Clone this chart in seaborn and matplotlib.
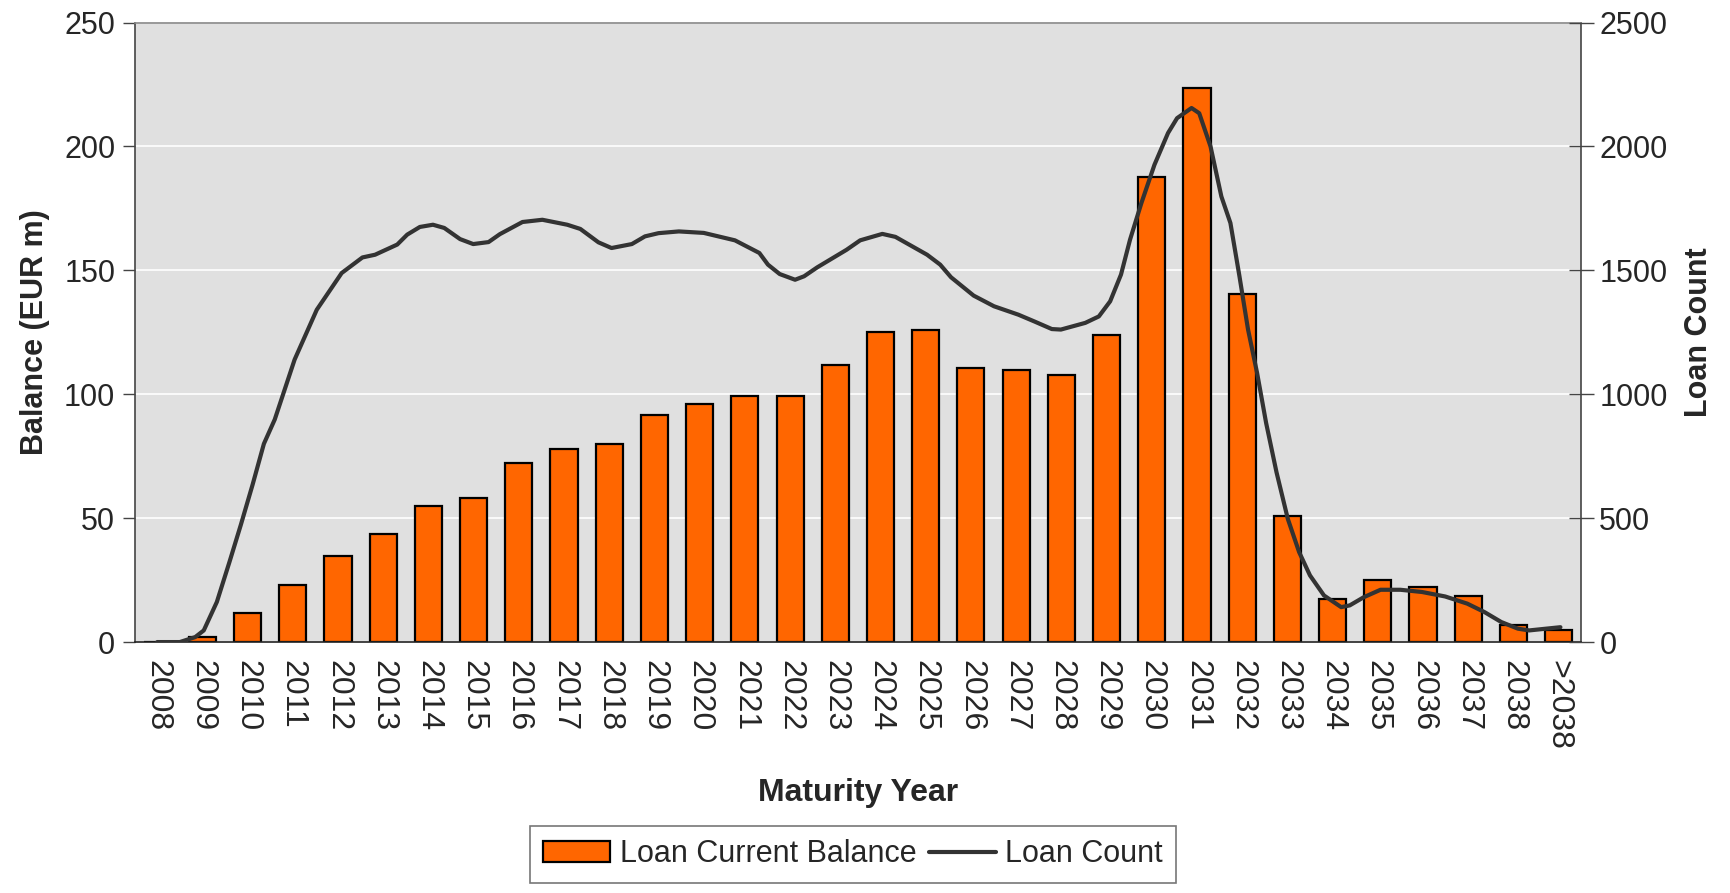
import matplotlib
matplotlib.use("Agg")
import matplotlib.pyplot as plt
import seaborn as sns
import pandas as pd
from matplotlib.ticker import FixedLocator, MultipleLocator
from matplotlib.patches import Patch
from matplotlib.lines import Line2D

# --- data ---
years = [str(y) for y in range(2008, 2039)] + [">2038"]
balance = [0, 1.9, 11.8, 23.2, 34.7, 43.5, 55.0, 58.0, 72.4, 78.1, 80.0,
           91.5, 96.2, 99.1, 99.1, 111.6, 125.1, 125.9, 110.5, 109.7, 107.7,
           123.9, 187.6, 223.4, 140.5, 50.8, 17.2, 24.9, 22.2, 18.4, 6.7, 4.8]

# loan count curve, x given in category positions (0 = 2008)
count_pos = [0.0, 0.5, 0.84, 1.03, 1.32, 1.60, 1.85, 2.11, 2.36, 2.60, 3.04,
             3.53, 4.08, 4.54, 4.82, 5.31, 5.53, 5.81, 6.10, 6.35, 6.70, 6.99,
             7.33, 7.58, 8.08, 8.52, 9.07, 9.36, 9.76, 10.05, 10.50, 10.79,
             11.09, 11.54, 12.09, 12.78, 13.32, 13.51, 13.77, 14.11, 14.31,
             14.60, 15.25, 15.55, 16.04, 16.33, 17.03, 17.32, 17.56, 18.06,
             18.51, 19.05, 19.40, 19.79, 19.99, 20.53, 20.83, 21.08, 21.32,
             21.52, 21.77, 22.06, 22.36, 22.56, 22.88, 23.05, 23.30, 23.54,
             23.74, 23.94, 24.13, 24.33, 24.53, 24.76, 25.01, 25.26, 25.50,
             25.81, 26.19, 26.38, 26.69, 27.06, 27.50, 27.98, 28.49, 28.98,
             29.36, 29.73, 30.10, 30.35, 30.72, 31.04]
count_vals = [0, 0, 20, 47, 162, 324, 473, 635, 800, 898, 1140,
              1341, 1489, 1552, 1563, 1604, 1644, 1675, 1684, 1671, 1626, 1606,
              1614, 1646, 1695, 1704, 1684, 1667, 1613, 1590, 1606, 1637,
              1650, 1657, 1651, 1621, 1570, 1523, 1485, 1462, 1476,
              1512, 1583, 1621, 1647, 1635, 1563, 1523, 1472, 1398,
              1355, 1321, 1294, 1263, 1261, 1288, 1314, 1375, 1483,
              1624, 1771, 1926, 2054, 2114, 2155, 2134, 2000, 1798,
              1691, 1476, 1261, 1086, 884, 685, 497, 363, 269,
              188, 141, 148, 181, 211, 211, 202, 184, 155,
              121, 81, 54, 47, 54, 60]

bar_color = "#FF6600"
line_color = "#333333"

sns.set_style("white")
plt.rcParams["font.family"] = ["Liberation Sans", "DejaVu Sans"]

fig = plt.figure(figsize=(17.3, 8.93), dpi=100)
ax = fig.add_axes([0.0778, 0.281, 0.8362, 0.6938])
ax.set_facecolor("#E0E0E0")

df = pd.DataFrame({"year": years, "balance": balance})
sns.barplot(data=df, x="year", y="balance", color=bar_color, width=0.6,
            edgecolor="black", linewidth=1.6, saturation=1, ax=ax, zorder=2)

ax.set_ylim(0, 250)
ax.set_xlim(-0.5, len(years) - 0.5)
ax.yaxis.set_major_locator(MultipleLocator(50))
ax.grid(axis="y", color="white", linewidth=1.2, zorder=0)
ax.set_axisbelow(True)

# category ticks at boundaries, labels at centres
ax.xaxis.set_major_locator(FixedLocator([i - 0.5 for i in range(len(years) + 1)]))
ax.xaxis.set_minor_locator(FixedLocator(list(range(len(years)))))
ax.set_xticklabels([], minor=False)
ax.set_xticklabels(years, minor=True, rotation=-90, fontsize=23)
ax.tick_params(axis="x", which="major", direction="out", length=9, width=1, color="#444444")
ax.tick_params(axis="x", which="minor", length=0, pad=13)
ax.tick_params(axis="y", direction="out", length=9, width=1, color="#444444",
               labelsize=22, pad=5)

ax.set_xlabel("Maturity Year", fontsize=23, fontweight="bold", labelpad=20)
ax.set_ylabel("Balance (EUR m)", fontsize=22, fontweight="bold", labelpad=10)

for s in ["left", "right"]:
    ax.spines[s].set_color("#444444")
ax.spines["top"].set_color("#888888")
ax.spines["bottom"].set_color("#222222")
for s in ax.spines.values():
    s.set_linewidth(1.2)

ax2 = ax.twinx()
sns.lineplot(x=count_pos, y=count_vals, sort=False, estimator=None,
             color=line_color, linewidth=3, ax=ax2, zorder=3)
ax2.set_ylim(0, 2500)
ax2.yaxis.set_major_locator(MultipleLocator(500))
ax2.tick_params(axis="y", direction="inout", length=18, width=1, color="#444444",
                labelsize=22, pad=4)
ax2.set_ylabel("Loan Count", fontsize=22, fontweight="bold", labelpad=12)
for s in ax2.spines.values():
    s.set_visible(False)

# legend below the plot
handles = [Patch(facecolor=bar_color, edgecolor="black", linewidth=1.6),
           Line2D([0], [0], color=line_color, linewidth=3)]
leg = fig.legend(handles, ["Loan Current Balance", "Loan Count"], ncol=2,
                 loc="lower center", bbox_to_anchor=(0.493, -0.006), fontsize=22,
                 frameon=True, fancybox=False, edgecolor="#555555",
                 handlelength=2.2, handletextpad=0.3, columnspacing=0.4,
                 borderpad=0.45)
leg.get_frame().set_linewidth(1.2)

fig.savefig("out.png", dpi=100)
